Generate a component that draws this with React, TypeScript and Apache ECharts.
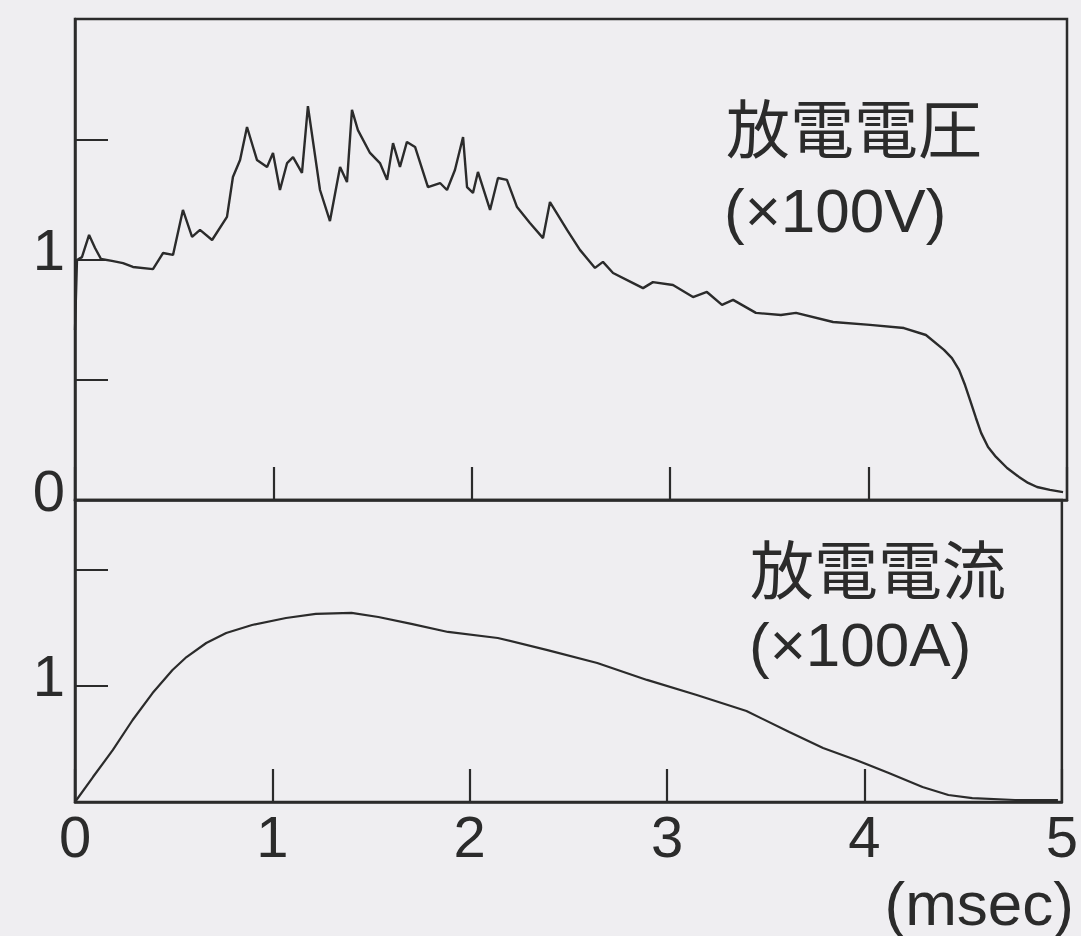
import React, { useEffect, useRef } from "react";
import * as echarts from "echarts";

// time axis (msec)
const xTicks = [0, 1, 2, 3, 4, 5];

// 放電電圧 (×100V)
const voltageT = [
  0, 0.01, 0.035, 0.071, 0.101, 0.131, 0.186, 0.242, 0.292, 0.393, 0.444, 0.494,
  0.544, 0.59, 0.63, 0.691, 0.766, 0.796, 0.832, 0.867, 0.917, 0.968, 0.998,
  1.033, 1.069, 1.099, 1.144, 1.174, 1.235, 1.285, 1.336, 1.371, 1.396, 1.426,
  1.487, 1.537, 1.573, 1.603, 1.638, 1.673, 1.714, 1.779, 1.84, 1.875, 1.915,
  1.956, 1.976, 2.006, 2.031, 2.092, 2.132, 2.177, 2.228, 2.293, 2.359, 2.394,
  2.48, 2.545, 2.621, 2.661, 2.712, 2.813, 2.863, 2.913, 3.014, 3.115, 3.185,
  3.261, 3.317, 3.432, 3.558, 3.634, 3.821, 4.007, 4.178, 4.289, 4.38, 4.42,
  4.456, 4.486, 4.511, 4.541, 4.567, 4.602, 4.642, 4.698, 4.758, 4.804, 4.849,
  4.914, 4.98,
];
const voltageV = [
  0.707, 0.998, 1.01, 1.102, 1.048, 1.002, 0.994, 0.985, 0.969, 0.96, 1.027, 1.019,
  1.206, 1.094, 1.123, 1.081, 1.177, 1.343, 1.414, 1.551, 1.414, 1.385, 1.443,
  1.289, 1.401, 1.426, 1.36, 1.638, 1.289, 1.16, 1.385, 1.322, 1.622, 1.538,
  1.443, 1.401, 1.331, 1.484, 1.385, 1.489, 1.468, 1.301, 1.318, 1.289, 1.372,
  1.509, 1.301, 1.277, 1.364, 1.206, 1.339, 1.331, 1.218, 1.152, 1.089, 1.239,
  1.123, 1.04, 0.965, 0.99, 0.944, 0.902, 0.881, 0.906, 0.894, 0.844, 0.865,
  0.811, 0.832, 0.778, 0.769, 0.778, 0.74, 0.728, 0.715, 0.686, 0.624, 0.59,
  0.541, 0.478, 0.416, 0.341, 0.279, 0.22, 0.179, 0.133, 0.096, 0.071, 0.054,
  0.042, 0.033,
];

// 放電電流 (×100A)
const currentT = [
  0, 0.091, 0.192, 0.292, 0.393, 0.494, 0.565, 0.665, 0.766, 0.897, 1.069, 1.22,
  1.401, 1.537, 1.704, 1.89, 2.142, 2.394, 2.646, 2.898, 3.15, 3.402, 3.619,
  3.79, 3.957, 4.123, 4.294, 4.425, 4.546, 4.763, 4.98,
];
const currentI = [
  0.0, 0.215, 0.448, 0.706, 0.938, 1.136, 1.248, 1.369, 1.455, 1.524, 1.584,
  1.619, 1.628, 1.593, 1.533, 1.464, 1.412, 1.308, 1.197, 1.051, 0.921, 0.783,
  0.603, 0.465, 0.362, 0.25, 0.129, 0.06, 0.034, 0.017, 0.017,
];

const voltageLabel = "放電電圧";
const voltageUnit = "(×100V)";
const currentLabel = "放電電流";
const currentUnit = "(×100A)";
const xUnit = "(msec)";

const INK = "#2b2b2b";
const LATIN = '"Liberation Sans", Arial, sans-serif';
const CJK = '"Liberation Sans", "Noto Sans CJK JP", sans-serif';

export default function App() {
  const ref = useRef<HTMLDivElement>(null);

  useEffect(() => {
    if (!ref.current) return;
    const chart = echarts.init(ref.current, undefined, { renderer: "svg" });

    const axisLine = { show: true, lineStyle: { color: INK, width: 2.5 } };
    const axisTick = { show: true, inside: true, length: 33, lineStyle: { color: INK, width: 2.2 } };
    const yLabel = {
      show: true, color: INK, fontSize: 58, fontFamily: LATIN, margin: 10,
      verticalAlign: "bottom", lineHeight: 20,
    };

    chart.setOption({
      animation: false,
      backgroundColor: "#efeef1",
      grid: [
        { left: 75, top: 19, width: 992, height: 481, show: true, borderColor: INK, borderWidth: 2.5, backgroundColor: "transparent" },
        { left: 75, top: 500, width: 992, height: 302, show: true, borderColor: INK, borderWidth: 2.5, backgroundColor: "transparent" },
      ],
      xAxis: [
        {
          type: "value", gridIndex: 0, min: xTicks[0], max: xTicks[xTicks.length - 1], interval: 1,
          axisLine, axisTick, axisLabel: { show: false }, splitLine: { show: false },
        },
        {
          type: "value", gridIndex: 1, min: xTicks[0], max: xTicks[xTicks.length - 1], interval: 1,
          axisLine, axisTick, splitLine: { show: false },
          axisLabel: { show: true, color: INK, fontSize: 58, fontFamily: LATIN, margin: 5 },
        },
      ],
      yAxis: [
        {
          type: "value", gridIndex: 0, min: 0, max: 2, interval: 0.5,
          axisLine, axisTick, splitLine: { show: false },
          axisLabel: { ...yLabel, formatter: (v: number) => (v === 0 || v === 1 ? String(v) : "") },
        },
        {
          type: "value", gridIndex: 1, min: 0, max: 2.6, interval: 1,
          axisLine, axisTick, splitLine: { show: false },
          axisLabel: { ...yLabel, formatter: (v: number) => (v === 1 ? "1" : "") },
        },
      ],
      series: [
        {
          type: "line", xAxisIndex: 0, yAxisIndex: 0, showSymbol: false, silent: true,
          lineStyle: { color: INK, width: 2.4 },
          data: voltageT.map((t, i) => [t, voltageV[i]]),
        },
        {
          type: "line", xAxisIndex: 1, yAxisIndex: 1, showSymbol: false, silent: true,
          lineStyle: { color: INK, width: 2.2 },
          data: currentT.map((t, i) => [t, currentI[i]]),
        },
      ],
      graphic: [
        { type: "text", x: 726, y: 131, style: { text: voltageLabel, fill: INK, fontSize: 64, lineHeight: 58, fontFamily: CJK, verticalAlign: "middle", align: "left" } },
        { type: "text", x: 724, y: 210, style: { text: voltageUnit, fill: INK, fontSize: 62, lineHeight: 58, fontFamily: LATIN, verticalAlign: "middle", align: "left" } },
        { type: "text", x: 750, y: 572, style: { text: currentLabel, fill: INK, fontSize: 64, lineHeight: 58, fontFamily: CJK, verticalAlign: "middle", align: "left" } },
        { type: "text", x: 749, y: 644, style: { text: currentUnit, fill: INK, fontSize: 62, lineHeight: 58, fontFamily: LATIN, verticalAlign: "middle", align: "left" } },
        { type: "text", x: 1074, y: 903, style: { text: xUnit, fill: INK, fontSize: 62, lineHeight: 58, fontFamily: LATIN, verticalAlign: "middle", align: "right" } },
      ],
    });

    return () => chart.dispose();
  }, []);

  return (
    <div
      ref={ref}
      style={{ position: "absolute", left: 0, top: 0, width: 1081, height: 936 }}
    />
  );
}
